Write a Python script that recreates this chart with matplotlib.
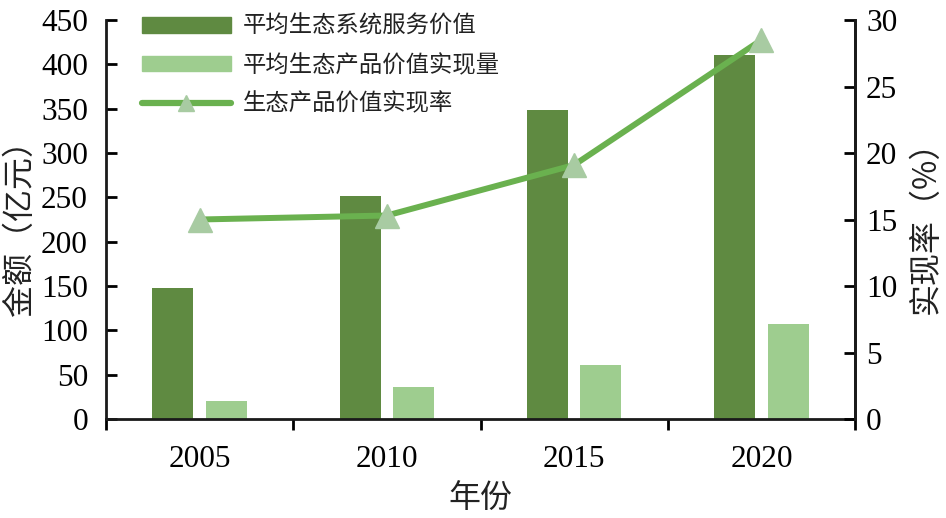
import matplotlib
matplotlib.use("Agg")
import matplotlib.pyplot as plt
import numpy as np
from matplotlib.lines import Line2D
from matplotlib.patches import Patch

years = ["2005", "2010", "2015", "2020"]
service_value = [148, 251, 348, 410]
realized_value = [20, 36, 61, 107]
realization_rate = [15.0, 15.3, 19.1, 28.5]

DARK = "#5f8a41"
LIGHT = "#9ecd8f"
LINE = "#6ab14f"
MARK = "#a8cba2"

SERIF = ["Liberation Serif", "Noto Sans CJK SC"]
CJK = ["Noto Sans CJK SC", "Liberation Serif"]

fig = plt.figure(figsize=(9.46, 5.18), dpi=100)
ax = fig.add_axes([106/946, 1-419/518, (855-106)/946, (419-20)/518])
ax2 = ax.twinx()

x = np.arange(len(years))
w = 0.22
off = 0.143
ax.bar(x - off, service_value, w, color=DARK, zorder=2)
ax.bar(x + off, realized_value, w, color=LIGHT, zorder=2)

ax2.plot(x, realization_rate, color=LINE, lw=4.3, marker="^", markersize=17,
         markerfacecolor=MARK, markeredgecolor=MARK, zorder=3, solid_capstyle="round")

ax.set_xlim(-0.5, 3.5)
ax.set_ylim(0, 450)
ax2.set_ylim(0, 30)
ax.set_yticks(np.arange(0, 451, 50))
ax2.set_yticks(np.arange(0, 31, 5))

ax.set_xticks(x)
ax.set_xticklabels(years, fontsize=22.5, family=SERIF)
ax.set_xticks(np.arange(-0.5, 3.6, 1), minor=True)
ax.tick_params(axis="x", which="major", length=0, pad=19)
ax.tick_params(axis="x", which="minor", length=8, width=2, direction="out")

ax.tick_params(axis="y", direction="in", length=8, width=2, pad=13)
ax2.tick_params(axis="y", direction="in", length=8, width=2, pad=8)
for lab in ax.get_yticklabels():
    lab.set_fontsize(22.5); lab.set_family(SERIF)
for lab in ax2.get_yticklabels():
    lab.set_fontsize(22.5); lab.set_family(SERIF)

for a in (ax, ax2):
    a.spines["top"].set_visible(False)
    for s in ("left", "right", "bottom"):
        a.spines[s].set_linewidth(2)
        a.spines[s].set_color("#1a1a1a")
ax2.spines["left"].set_visible(False)
ax2.spines["bottom"].set_visible(False)

ax.set_xlabel("年份", fontsize=23, family=CJK, labelpad=6, color="#222222")
ax.set_ylabel("金额（亿元）", fontsize=23, family=CJK, labelpad=4, color="#222222")
ax2.set_ylabel("实现率（%）", fontsize=23, family=CJK, labelpad=9, color="#222222")

handles = [Patch(color=DARK), Patch(color=LIGHT),
           Line2D([], [], color=LINE, lw=4.5, marker="^", markersize=12,
                  markerfacecolor=MARK, markeredgecolor=MARK, solid_capstyle="round")]
labels = ["平均生态系统服务价值", "平均生态产品价值实现量", "生态产品价值实现率"]
leg = ax.legend(handles, labels, loc="upper left", bbox_to_anchor=(142/946, 1-15/518),
                bbox_transform=fig.transFigure, frameon=False,
                prop={"family": CJK, "size": 16.8}, handlelength=3.8, handleheight=0.65,
                handletextpad=0.5, labelspacing=0.68, borderpad=0, borderaxespad=0)
for t in leg.get_texts():
    t.set_color("#222222")

fig.savefig("out.png", dpi=100)
